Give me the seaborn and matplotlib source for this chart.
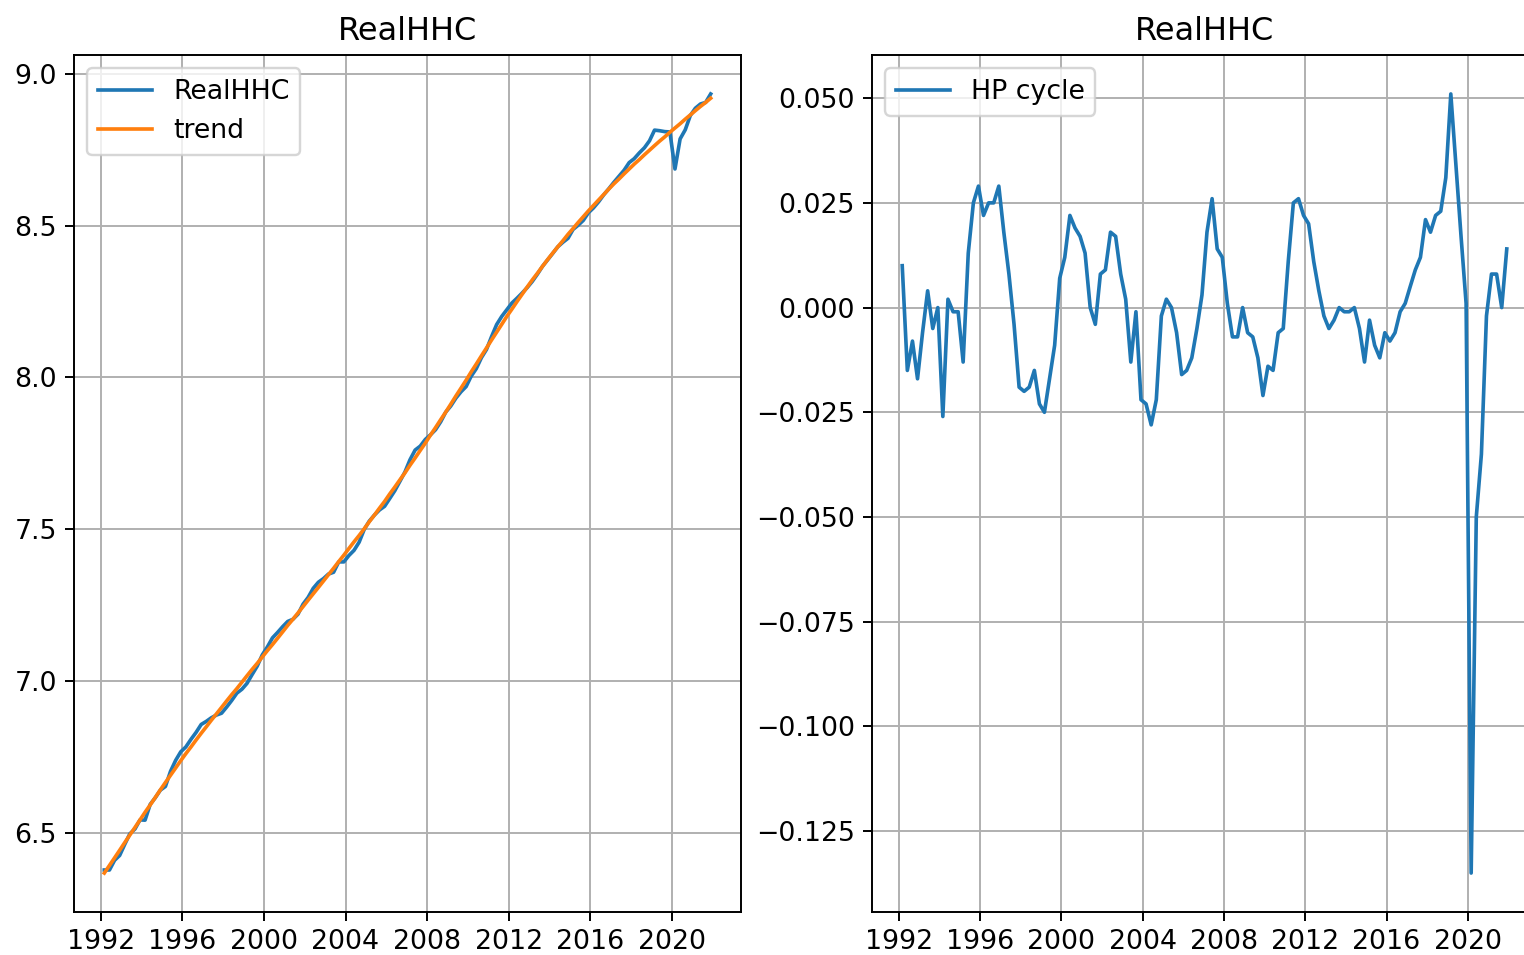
import pandas as pd
import seaborn as sns
import matplotlib.pyplot as plt
import matplotlib.dates as mdates

# Quarterly observations, 1992Q1 - 2021Q4 (dated on the last month of each quarter)
dates = pd.date_range("1992-03-01", periods=120, freq="3MS")

hp_cycle = [
    0.010, -0.015, -0.008, -0.017, -0.006, 0.004, -0.005, 0.000,
    -0.026, 0.002, -0.001, -0.001, -0.013, 0.013, 0.025, 0.029,
    0.022, 0.025, 0.025, 0.029, 0.018, 0.008, -0.004, -0.019,
    -0.020, -0.019, -0.015, -0.023, -0.025, -0.017, -0.009, 0.007,
    0.012, 0.022, 0.019, 0.017, 0.013, 0.000, -0.004, 0.008,
    0.009, 0.018, 0.017, 0.008, 0.002, -0.013, -0.001, -0.022,
    -0.023, -0.028, -0.022, -0.002, 0.002, 0.000, -0.006, -0.016,
    -0.015, -0.012, -0.005, 0.003, 0.018, 0.026, 0.014, 0.012,
    0.001, -0.007, -0.007, 0.000, -0.006, -0.007, -0.012, -0.021,
    -0.014, -0.015, -0.006, -0.005, 0.011, 0.025, 0.026, 0.022,
    0.020, 0.011, 0.004, -0.002, -0.005, -0.003, 0.000, -0.001,
    -0.001, 0.000, -0.005, -0.013, -0.003, -0.009, -0.012, -0.006,
    -0.008, -0.006, -0.001, 0.001, 0.005, 0.009, 0.012, 0.021,
    0.018, 0.022, 0.023, 0.031, 0.051, 0.034, 0.017, 0.001,
    -0.135, -0.050, -0.035, -0.002, 0.008, 0.008, 0.000, 0.014,
]

# HP trend
hp_trend = [
    6.369, 6.394, 6.419, 6.444, 6.469, 6.494, 6.519, 6.544,
    6.569, 6.593, 6.618, 6.643, 6.667, 6.691, 6.715, 6.739,
    6.762, 6.784, 6.807, 6.829, 6.850, 6.872, 6.893, 6.914,
    6.935, 6.956, 6.976, 6.997, 7.018, 7.039, 7.059, 7.080,
    7.101, 7.121, 7.142, 7.163, 7.184, 7.204, 7.225, 7.246,
    7.267, 7.288, 7.309, 7.330, 7.351, 7.372, 7.394, 7.415,
    7.437, 7.459, 7.480, 7.502, 7.525, 7.547, 7.570, 7.592,
    7.616, 7.639, 7.663, 7.686, 7.711, 7.735, 7.760, 7.784,
    7.810, 7.835, 7.861, 7.886, 7.912, 7.939, 7.965, 7.991,
    8.018, 8.044, 8.071, 8.097, 8.123, 8.149, 8.175, 8.201,
    8.225, 8.250, 8.274, 8.298, 8.321, 8.343, 8.366, 8.388,
    8.409, 8.430, 8.450, 8.471, 8.490, 8.510, 8.529, 8.548,
    8.566, 8.584, 8.602, 8.620, 8.637, 8.653, 8.670, 8.686,
    8.702, 8.717, 8.733, 8.748, 8.763, 8.778, 8.792, 8.807,
    8.821, 8.835, 8.850, 8.864, 8.878, 8.892, 8.905, 8.919,
]

df = pd.DataFrame({"date": dates, "trend": hp_trend, "cycle": hp_cycle})
# series = trend + cycle (HP decomposition)
df["RealHHC"] = df["trend"] + df["cycle"]

plt.rcParams["font.size"] = 11

dpi = 175
fig = plt.figure(figsize=(1524 / dpi, 955 / dpi), dpi=dpi)

ax1 = fig.add_axes([74 / 1524, 43 / 955, 667 / 1524, 857 / 955])
ax2 = fig.add_axes([872 / 1524, 43 / 955, 665 / 1524, 857 / 955])

# Left: series with trend
sns.lineplot(data=df, x="date", y="RealHHC", ax=ax1, color="#1f77b4", label="RealHHC")
sns.lineplot(data=df, x="date", y="trend", ax=ax1, color="#ff7f0e", label="trend")
ax1.set_title("RealHHC")
ax1.legend(loc="upper left")

# Right: cycle
sns.lineplot(data=df, x="date", y="cycle", ax=ax2, color="#1f77b4", label="HP cycle")
ax2.set_title("RealHHC")
ax2.legend(loc="upper left")

for ax in (ax1, ax2):
    ax.set_xlabel("")
    ax.set_ylabel("")
    ax.grid(True)
    ax.xaxis.set_major_locator(mdates.YearLocator(4))
    ax.xaxis.set_major_formatter(mdates.DateFormatter("%Y"))

fig.savefig("out.png", dpi=dpi)
plt.close()
